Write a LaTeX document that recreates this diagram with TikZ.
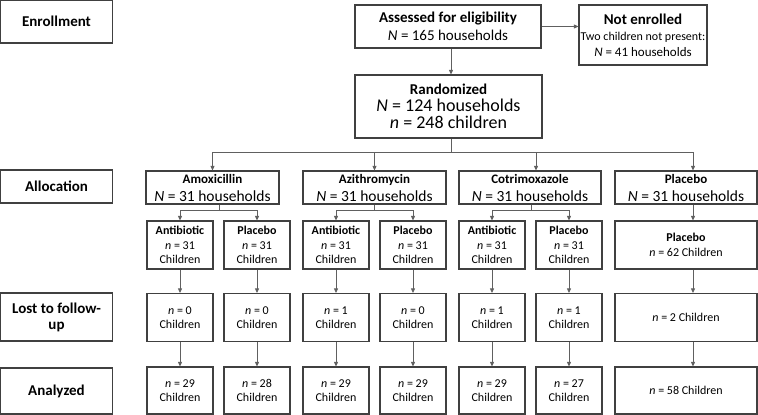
\documentclass[tikz,border=0pt]{standalone}
\usepackage{fontspec}
\setmainfont{Carlito}
\usetikzlibrary{arrows.meta,calc}
\definecolor{boxline}{HTML}{404040}
\definecolor{conn}{HTML}{606060}
\begin{document}
\begin{tikzpicture}[x=1pt,y=-1pt,
  box/.style={draw=boxline,line width=1.1pt,inner sep=0pt,align=center,fill=white},
  arr/.style={draw=conn,line width=0.8pt,-{Triangle[length=4.5pt,width=4pt]}},
  ln/.style={draw=conn,line width=0.8pt},
  hd/.style={font=\bfseries\fontsize{15}{16}\selectfont},
  sm/.style={font=\fontsize{12}{14.5}\selectfont}]
\useasboundingbox (0,0) rectangle (758,415);
% left labels
\node[box,hd,minimum width=112pt,minimum height=42.5pt] (enr) at (56.5,21.7) {Enrollment};
\node[box,hd,minimum width=112pt,minimum height=33pt] (alloc) at (56.5,186.5) {Allocation};
\node[box,hd,minimum width=112pt,minimum height=48pt] (lost) at (56.5,317) {Lost to follow-\\up};
\node[box,hd,minimum width=112pt,minimum height=46pt] (anal) at (56.5,391) {Analyzed};
% enrollment
\node[box,font=\fontsize{15}{18}\selectfont,minimum width=186pt,minimum height=43pt] (ass) at (448,26.5)
  {\textbf{Assessed for eligibility}\\\textit{N} = 165 households};
\node[box,font=\fontsize{12}{16}\selectfont,minimum width=128pt,minimum height=60pt] (ne) at (643,35)
  {{\bfseries\fontsize{15}{16}\selectfont Not enrolled}\\Two children not present:\\{\fontsize{13}{16}\selectfont \textit{N} = 41 households}};
\node[box,font=\fontsize{18}{17}\selectfont,minimum width=187pt,minimum height=63pt] (rand) at (448.5,106.5)
  {{\bfseries\fontsize{15}{17}\selectfont Randomized}\\\textit{N} = 124 households\\\textit{n} = 248 children};
% allocation
\tikzset{grp/.style={box,font=\fontsize{15.5}{18}\selectfont,minimum height=33pt}}
\node[grp,minimum width=133pt] (amox) at (212.5,187.5)
  {{\bfseries\fontsize{13}{16}\selectfont Amoxicillin}\\\textit{N} = 31 households};
\node[grp,minimum width=143pt] (azi) at (374.5,187.5)
  {{\bfseries\fontsize{13}{16}\selectfont Azithromycin}\\\textit{N} = 31 households};
\node[grp,minimum width=142pt] (cot) at (530,187.5)
  {{\bfseries\fontsize{13}{16}\selectfont Cotrimoxazole}\\\textit{N} = 31 households};
\node[grp,minimum width=142pt] (plc) at (686,187.5)
  {{\bfseries\fontsize{13}{16}\selectfont Placebo}\\\textit{N} = 31 households};
% sub-groups
\foreach \n/\x/\t in {amA/180/Antibiotic,amP/257/Placebo,azA/336/Antibiotic,azP/413/Placebo,coA/492/Antibiotic,coP/569/Placebo}{
  \node[box,sm,minimum width=66pt,minimum height=48pt] (\n1) at (\x,245) {\textbf{\t}\\\textit{n} = 31\\Children};
}
\node[box,sm,minimum width=142pt,minimum height=48pt] (pl1) at (686,245) {\textbf{Placebo}\\\textit{n} = 62 Children};
% lost
\foreach \n/\x/\v in {amA/180/0,amP/257/0,azA/336/1,azP/413/0,coA/492/1,coP/569/1}{
  \node[box,sm,minimum width=66pt,minimum height=48pt] (\n2) at (\x,317.5) {\textit{n} = \v\\Children};
}
\node[box,sm,minimum width=142pt,minimum height=48pt] (pl2) at (686,317.5) {\textit{n} = 2 Children};
% analyzed
\foreach \n/\x/\v in {amA/180/29,amP/257/28,azA/336/29,azP/413/29,coA/492/29,coP/569/27}{
  \node[box,sm,minimum width=66pt,minimum height=47pt] (\n3) at (\x,390.5) {\textit{n} = \v\\Children};
}
\node[box,sm,minimum width=142pt,minimum height=47pt] (pl3) at (686,390.5) {\textit{n} = 58 Children};
% connectors
\draw[arr] ([xshift=3pt]ass.south) -- ([xshift=2.5pt]rand.north);
\draw[arr] (ass.east) -- (ne.west |- ass.east);
\coordinate (hl) at (451,152);
\draw[ln] ([xshift=2.5pt]rand.south) -- (hl);
\draw[ln] (amox.north |- hl) -- ([xshift=7pt]plc.north |- hl);
\draw[arr] (amox.north |- hl) -- (amox.north);
\draw[arr] (azi.north |- hl) -- (azi.north);
\draw[arr] ([xshift=6pt]cot.north |- hl) -- ([xshift=6pt]cot.north);
\draw[arr] ([xshift=7pt]plc.north |- hl) -- ([xshift=7pt]plc.north);
% sub splits
\foreach \g/\a/\b/\dx in {amox/amA/amP/6.5,azi/azA/azP/0,cot/coA/coP/1}{
  \coordinate (s\g) at ($(\g.south)+(\dx,5.5)$);
  \draw[ln] ([xshift=\dx pt]\g.south) -- (s\g);
  \draw[ln] (\a1.north |- s\g) -- (\b1.north |- s\g);
  \draw[arr] (\a1.north |- s\g) -- (\a1.north);
  \draw[arr] (\b1.north |- s\g) -- (\b1.north);
}
\draw[arr] ([xshift=7pt]plc.south) -- ([xshift=7pt]pl1.north);
\foreach \n in {amA,amP,azA,azP,coA,coP}{
  \draw[arr] (\n1) -- (\n2);
  \draw[arr] (\n2) -- (\n3);
}
\draw[arr] ([xshift=7pt]pl1.south) -- ([xshift=7pt]pl2.north);
\draw[arr] ([xshift=7pt]pl2.south) -- ([xshift=7pt]pl3.north);
\end{tikzpicture}
\end{document}
